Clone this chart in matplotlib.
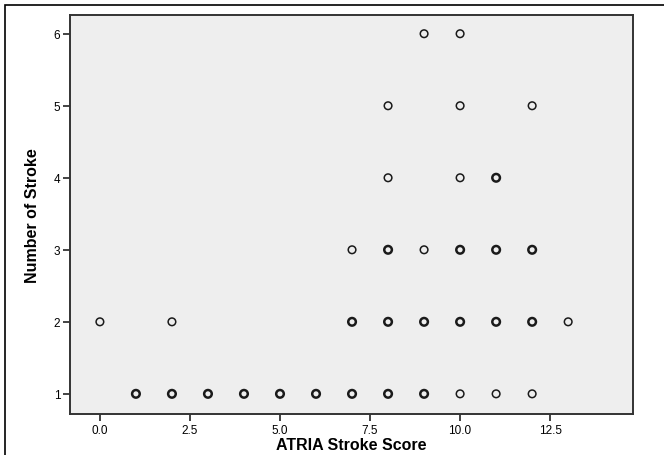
import numpy as np
import matplotlib.pyplot as plt
from matplotlib.patches import Rectangle

#-----------------------------------------------------------------------------------------------------------------------
# Data (ATRIA stroke score vs number of strokes), n = overlapping cases at a point (1 or more)
score = [9, 10,
         8, 10, 12,
         8, 10, 11,
         7, 8, 9, 10, 11, 12,
         0, 2, 7, 8, 9, 10, 11, 12, 13,
         1, 2, 3, 4, 5, 6, 7, 8, 9, 10, 11, 12]
strokes = [6, 6,
           5, 5, 5,
           4, 4, 4,
           3, 3, 3, 3, 3, 3,
           2, 2, 2, 2, 2, 2, 2, 2, 2,
           1, 1, 1, 1, 1, 1, 1, 1, 1, 1, 1, 1]
n_cases = [1, 1,
           1, 1, 1,
           1, 1, 2,
           1, 2, 1, 2, 2, 2,
           1, 1, 2, 2, 2, 2, 2, 2, 1,
           2, 2, 2, 2, 2, 2, 2, 2, 2, 1, 1, 1]

x_ticks = [0.0, 2.5, 5.0, 7.5, 10.0, 12.5]
y_ticks = [1, 2, 3, 4, 5, 6]

#-----------------------------------------------------------------------------------------------------------------------
# Plot
plt.rcParams['font.family'] = ['Liberation Sans', 'DejaVu Sans']

fig = plt.figure(figsize=(6.64, 4.56), dpi=100)
ax = fig.add_axes([70/664, 41/456, 563/664, 399/456])
ax.set_facecolor('#eeeeee')

lw = [1.1 if n == 1 else 1.8 for n in n_cases]
ax.scatter(score, strokes, s=30, facecolors='none', edgecolors='#1a1a1a', linewidths=lw, zorder=3)

ax.set_xlim(-0.83, 14.8)
ax.set_ylim(0.72, 6.26)
ax.set_xticks(x_ticks)
ax.set_xticklabels([f'{t:.1f}' for t in x_ticks])
ax.set_yticks(y_ticks)
ax.tick_params(direction='out', length=5, width=1.2, color='#222222', labelsize=8.5, pad=2)

for s in ax.spines.values():
    s.set_color('#333333')
    s.set_linewidth(1.4)

ax.set_xlabel('ATRIA Stroke Score', fontsize=11.5, fontweight='bold', labelpad=1)
ax.set_ylabel('Number of Stroke', fontsize=11.5, fontweight='bold', labelpad=10)

# outer frame
fig.patches.append(Rectangle((5/664, -0.01), 1.2, 1 - 6/456 + 0.01, transform=fig.transFigure,
                             fill=False, edgecolor='black', linewidth=1.2))

fig.savefig('out.png', dpi=100)
